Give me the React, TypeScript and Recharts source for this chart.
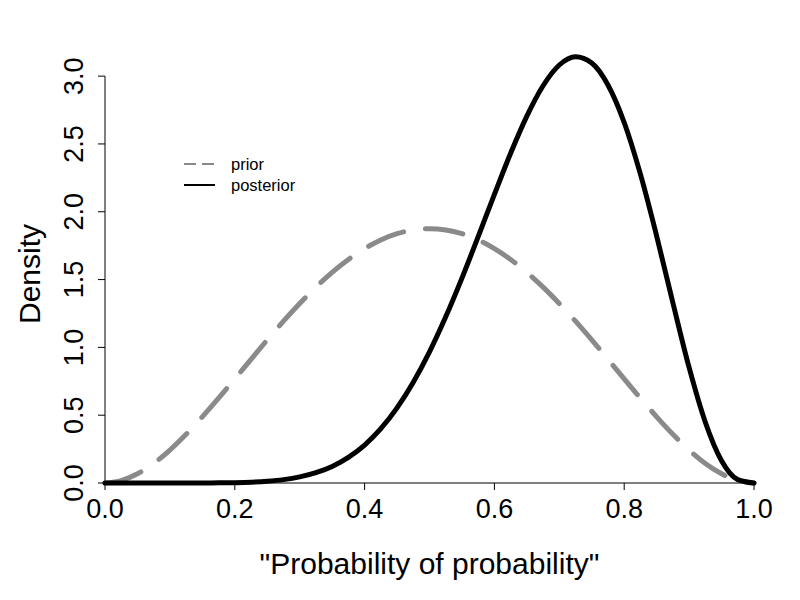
import { LineChart, Line, XAxis, YAxis, ReferenceLine, Label } from 'recharts';

const probability = [
  0, 0.025, 0.05, 0.075, 0.1, 0.125, 0.15, 0.175, 0.2, 0.225, 0.25, 0.275, 0.3, 0.325,
  0.35, 0.375, 0.4, 0.425, 0.45, 0.475, 0.5, 0.525, 0.55, 0.575, 0.6, 0.625, 0.65, 0.675,
  0.7, 0.725, 0.75, 0.775, 0.8, 0.825, 0.85, 0.875, 0.9, 0.925, 0.95, 0.975, 1,
];

const priorDensity = [
  0, 0.018, 0.068, 0.144, 0.243, 0.359, 0.488, 0.625, 0.768, 0.912, 1.055, 1.193, 1.323,
  1.444, 1.553, 1.648, 1.728, 1.792, 1.838, 1.866, 1.875, 1.866, 1.838, 1.792, 1.728, 1.648,
  1.553, 1.444, 1.323, 1.193, 1.055, 0.912, 0.768, 0.625, 0.488, 0.359, 0.243, 0.144, 0.068,
  0.018, 0,
];

const posteriorDensity = [
  0, 0, 0, 0, 0, 0.0001, 0.0003, 0.001, 0.0026, 0.006, 0.013, 0.025, 0.045, 0.076, 0.122,
  0.189, 0.28, 0.401, 0.554, 0.743, 0.967, 1.225, 1.511, 1.816, 2.128, 2.431, 2.705, 2.929,
  3.082, 3.143, 3.097, 2.935, 2.658, 2.277, 1.821, 1.329, 0.852, 0.448, 0.164, 0.025, 0,
];

const xTicks = [0, 0.2, 0.4, 0.6, 0.8, 1];
const yTicks = [0, 0.5, 1, 1.5, 2, 2.5, 3];
const seriesNames = ['prior', 'posterior'];

const data = probability.map((p, i) => ({
  p,
  prior: priorDensity[i],
  posterior: posteriorDensity[i],
}));

const FONT = '"Liberation Sans", Arial, Helvetica, sans-serif';

function YTick(props: any) {
  const { x, y, payload } = props;
  return (
    <text
      x={x}
      y={y}
      transform={`rotate(-90, ${x}, ${y})`}
      textAnchor="middle"
      fontSize={27}
      fontFamily={FONT}
      fill="#000"
    >
      {payload.value.toFixed(1)}
    </text>
  );
}

// legend drawn outside the chart so it does not eat into the plot margins
function LegendBox() {
  return (
    <svg
      width={140}
      height={44}
      style={{ position: 'absolute', left: 184, top: 156, overflow: 'visible' }}
    >
      <line x1={0} y1={8} x2={31} y2={8} stroke="#8a8a8a" strokeWidth={2} strokeDasharray="12 6" />
      <text x={47} y={8} dy="0.35em" fontSize={16.5} fontFamily={FONT} fill="#000">
        {seriesNames[0]}
      </text>
      <line x1={0} y1={29} x2={31} y2={29} stroke="#000" strokeWidth={2} />
      <text x={47} y={29} dy="0.35em" fontSize={16.5} fontFamily={FONT} fill="#000">
        {seriesNames[1]}
      </text>
    </svg>
  );
}

export default function App() {
  return (
    <div style={{ position: 'absolute', left: 0, top: 0, width: 800, height: 600, background: '#fff' }}>
      <LineChart
        width={800}
        height={600}
        data={data}
        margin={{ top: 49, right: 46, bottom: 57, left: 45 }}
        style={{ fontFamily: FONT }}
      >
        <XAxis
          dataKey="p"
          type="number"
          domain={[0, 1]}
          ticks={xTicks}
          tickFormatter={(v: number) => v.toFixed(1)}
          height={60}
          tickSize={7}
          tickMargin={9}
          axisLine={{ stroke: '#000', strokeWidth: 1 }}
          tickLine={{ stroke: '#000', strokeWidth: 1 }}
          tick={{ fontSize: 27, fill: '#000', fontFamily: FONT }}
          interval={0}
        >
          <Label
            content={(p: any) => {
              const vb = p.viewBox;
              return (
                <text
                  x={vb.x + vb.width / 2}
                  y={vb.y + 91}
                  textAnchor="middle"
                  fontSize={30}
                  fontFamily={FONT}
                  fill="#000"
                >
                  "Probability of probability"
                </text>
              );
            }}
          />
        </XAxis>
        <YAxis
          type="number"
          domain={[0, 3.2]}
          ticks={yTicks}
          width={60}
          tickSize={7}
          tickMargin={15}
          axisLine={false}
          tickLine={{ stroke: '#000', strokeWidth: 1 }}
          tick={<YTick />}
          interval={0}
        >
          <Label
            content={(p: any) => {
              const vb = p.viewBox;
              const cx = vb.x - 5;
              const cy = vb.y + 225;
              return (
                <text
                  x={cx}
                  y={cy}
                  transform={`rotate(-90, ${cx}, ${cy})`}
                  textAnchor="middle"
                  fontSize={30}
                  fontFamily={FONT}
                  fill="#000"
                >
                  Density
                </text>
              );
            }}
          />
        </YAxis>
        <ReferenceLine
          segment={[
            { x: 0, y: 0 },
            { x: 0, y: 3 },
          ]}
          stroke="#000"
          strokeWidth={1}
        />
        <Line
          type="monotone"
          dataKey="prior"
          stroke="#8a8a8a"
          strokeWidth={5}
          strokeDasharray="38 22"
          strokeLinecap="round"
          dot={false}
          isAnimationActive={false}
        />
        <Line
          type="monotone"
          dataKey="posterior"
          stroke="#000"
          strokeWidth={5}
          strokeLinecap="round"
          dot={false}
          isAnimationActive={false}
        />
      </LineChart>
      <LegendBox />
    </div>
  );
}
